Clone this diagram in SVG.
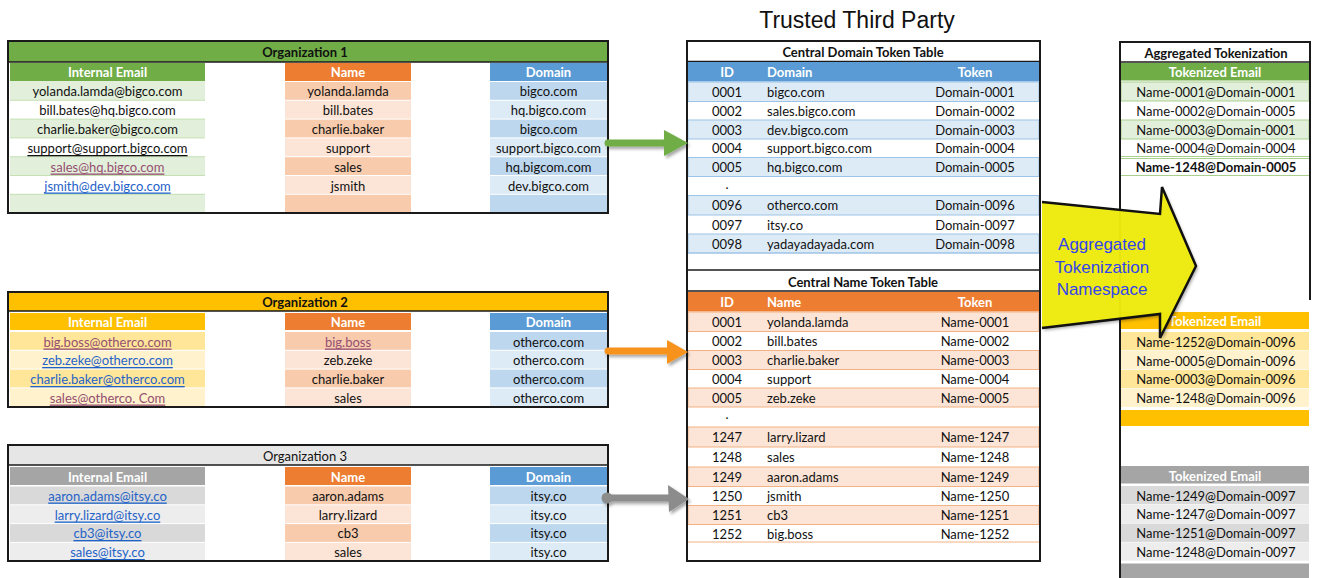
<svg xmlns="http://www.w3.org/2000/svg" width="1318" height="578" viewBox="0 0 1318 578">
  <style>
    .t { font-family: Lato, "Liberation Sans", sans-serif; font-size: 13px; fill: #111; text-anchor: middle; dominant-baseline: central; }
    .s { text-anchor: start; }
    .b { font-weight: bold; }
    .w { font-weight: bold; fill: #fff; }
    .lk { fill: #1f62c8; text-decoration: underline; }
    .vs { fill: #954f72; text-decoration: underline; }
    .ul { text-decoration: underline; }
    .box { fill: none; stroke: #1a1a1a; stroke-width: 2; }
    .rule { stroke: #1a1a1a; stroke-width: 1.6; }
    .g1 { fill: #e2efda; } .g0 { fill: #ffffff; }
    .o1 { fill: #ffe699; } .o0 { fill: #fff2cc; }
    .y1 { fill: #d9d9d9; } .y0 { fill: #ededed; }
    .n1 { fill: #f8cbad; } .n0 { fill: #fce4d6; }
    .d1 { fill: #bdd7ee; } .d0 { fill: #ddebf7; }
    .arrowtxt { font-family: "Liberation Sans", Arial, sans-serif; font-size: 17px; fill: #3344ee; text-anchor: middle; dominant-baseline: central; }
  </style>
  <defs>
    <filter id="shadow" x="-20%" y="-20%" width="140%" height="150%">
      <feDropShadow dx="2" dy="2.5" stdDeviation="1.6" flood-color="#000" flood-opacity="0.35"/>
    </filter>
  </defs>

  <rect width="1318" height="578" fill="#fff"/>

  <text x="857" y="20" font-family="Liberation Sans, Arial, sans-serif" font-size="23" text-anchor="middle" dominant-baseline="central" fill="#111">Trusted Third Party</text>

  <!-- Organization 1 -->
  <g id="org1">
    <rect x="9" y="42" width="598" height="20" fill="#70ad47"/>
    <line x1="9" y1="62" x2="607" y2="62" class="rule"/>
    <text x="305" y="52" class="t b">Organization 1</text>
    <rect x="10" y="63" width="195" height="18" fill="#70ad47"/>
    <rect x="285" y="63" width="126" height="18" fill="#ed7d31"/>
    <rect x="490" y="63" width="117" height="18" fill="#5b9bd5"/>
    <text x="107.5" y="72" class="t w">Internal Email</text>
    <text x="348" y="72" class="t w">Name</text>
    <text x="548.5" y="72" class="t w">Domain</text>
    <rect x="10" y="81.5" width="195" height="131.5" fill="#c6e0b4"/>
    <rect x="10" y="82" width="195" height="17.8" class="g1"/>
    <rect x="10" y="100.8" width="195" height="17.8" class="g0"/>
    <rect x="10" y="119.6" width="195" height="17.8" class="g1"/>
    <rect x="10" y="138.4" width="195" height="17.8" class="g0"/>
    <rect x="10" y="157.2" width="195" height="17.8" class="g1"/>
    <rect x="10" y="176" width="195" height="17.8" class="g0"/>
    <rect x="10" y="194.8" width="195" height="17.8" class="g1"/>
    <rect x="285" y="82" width="126" height="17.8" class="n1"/>
    <rect x="285" y="100.8" width="126" height="17.8" class="n0"/>
    <rect x="285" y="119.6" width="126" height="17.8" class="n1"/>
    <rect x="285" y="138.4" width="126" height="17.8" class="n0"/>
    <rect x="285" y="157.2" width="126" height="17.8" class="n1"/>
    <rect x="285" y="176" width="126" height="17.8" class="n0"/>
    <rect x="285" y="194.8" width="126" height="17.8" class="n1"/>
    <rect x="490" y="82" width="117" height="17.8" class="d1"/>
    <rect x="490" y="100.8" width="117" height="17.8" class="d0"/>
    <rect x="490" y="119.6" width="117" height="17.8" class="d1"/>
    <rect x="490" y="138.4" width="117" height="17.8" class="d0"/>
    <rect x="490" y="157.2" width="117" height="17.8" class="d1"/>
    <rect x="490" y="176" width="117" height="17.8" class="d0"/>
    <rect x="490" y="194.8" width="117" height="17.8" class="d1"/>
    <text x="107.5" y="91" class="t">yolanda.lamda@bigco.com</text>
    <text x="107.5" y="110" class="t">bill.bates@hq.bigco.com</text>
    <text x="107.5" y="129" class="t">charlie.baker@bigco.com</text>
    <text x="107.5" y="148" class="t ul">support@support.bigco.com</text>
    <text x="107.5" y="166.5" class="t vs">sales@hq.bigco.com</text>
    <text x="107.5" y="185.5" class="t lk">jsmith@dev.bigco.com</text>
    <text x="348" y="91" class="t">yolanda.lamda</text>
    <text x="348" y="110" class="t">bill.bates</text>
    <text x="348" y="129" class="t">charlie.baker</text>
    <text x="348" y="148" class="t">support</text>
    <text x="348" y="166.5" class="t">sales</text>
    <text x="348" y="185.5" class="t">jsmith</text>
    <text x="548.5" y="91" class="t">bigco.com</text>
    <text x="548.5" y="110" class="t">hq.bigco.com</text>
    <text x="548.5" y="129" class="t">bigco.com</text>
    <text x="548.5" y="148" class="t">support.bigco.com</text>
    <text x="548.5" y="166.5" class="t">hq.bigcom.com</text>
    <text x="548.5" y="185.5" class="t">dev.bigco.com</text>
    <rect x="8" y="41" width="600" height="172" class="box"/>
  </g>

  <!-- Organization 2 -->
  <g id="org2">
    <rect x="9" y="293" width="598" height="18" fill="#ffc000"/>
    <line x1="9" y1="311" x2="607" y2="311" class="rule"/>
    <text x="305" y="302" class="t b">Organization 2</text>
    <rect x="10" y="313" width="195" height="17" fill="#ffc000"/>
    <rect x="285" y="313" width="126" height="17" fill="#ed7d31"/>
    <rect x="490" y="313" width="117" height="17" fill="#5b9bd5"/>
    <text x="107.5" y="322" class="t w">Internal Email</text>
    <text x="348" y="322" class="t w">Name</text>
    <text x="548.5" y="322" class="t w">Domain</text>
    <rect x="10" y="332" width="195" height="17.8" class="o1"/>
    <rect x="10" y="350.8" width="195" height="17.8" class="o0"/>
    <rect x="10" y="369.6" width="195" height="17.8" class="o1"/>
    <rect x="10" y="388.4" width="195" height="17.8" class="o0"/>
    <rect x="285" y="332" width="126" height="17.8" class="n1"/>
    <rect x="285" y="350.8" width="126" height="17.8" class="n0"/>
    <rect x="285" y="369.6" width="126" height="17.8" class="n1"/>
    <rect x="285" y="388.4" width="126" height="17.8" class="n0"/>
    <rect x="490" y="332" width="117" height="17.8" class="d1"/>
    <rect x="490" y="350.8" width="117" height="17.8" class="d0"/>
    <rect x="490" y="369.6" width="117" height="17.8" class="d1"/>
    <rect x="490" y="388.4" width="117" height="17.8" class="d0"/>
    <text x="107.5" y="341.5" class="t vs">big.boss@otherco.com</text>
    <text x="107.5" y="360" class="t lk">zeb.zeke@otherco.com</text>
    <text x="107.5" y="379" class="t lk">charlie.baker@otherco.com</text>
    <text x="107.5" y="397.5" class="t vs">sales@otherco. Com</text>
    <text x="348" y="341.5" class="t vs">big.boss</text>
    <text x="348" y="360" class="t">zeb.zeke</text>
    <text x="348" y="379" class="t">charlie.baker</text>
    <text x="348" y="397.5" class="t">sales</text>
    <text x="548.5" y="341.5" class="t">otherco.com</text>
    <text x="548.5" y="360" class="t">otherco.com</text>
    <text x="548.5" y="379" class="t">otherco.com</text>
    <text x="548.5" y="397.5" class="t">otherco.com</text>
    <rect x="8" y="292" width="600" height="115" class="box"/>
  </g>

  <!-- Organization 3 -->
  <g id="org3">
    <rect x="9" y="446" width="598" height="19" fill="#e7e6e6"/>
    <line x1="9" y1="465" x2="607" y2="465" class="rule"/>
    <text x="305" y="456" class="t">Organization 3</text>
    <rect x="10" y="467" width="195" height="18" fill="#a5a5a5"/>
    <rect x="285" y="467" width="126" height="18" fill="#ed7d31"/>
    <rect x="490" y="467" width="117" height="18" fill="#5b9bd5"/>
    <text x="107.5" y="476.5" class="t w">Internal Email</text>
    <text x="348" y="476.5" class="t w">Name</text>
    <text x="548.5" y="476.5" class="t w">Domain</text>
    <rect x="10" y="486.5" width="195" height="17.8" class="y1"/>
    <rect x="10" y="505.3" width="195" height="17.8" class="y0"/>
    <rect x="10" y="524.1" width="195" height="17.8" class="y1"/>
    <rect x="10" y="542.9" width="195" height="17.8" class="y0"/>
    <rect x="285" y="486.5" width="126" height="17.8" class="n1"/>
    <rect x="285" y="505.3" width="126" height="17.8" class="n0"/>
    <rect x="285" y="524.1" width="126" height="17.8" class="n1"/>
    <rect x="285" y="542.9" width="126" height="17.8" class="n0"/>
    <rect x="490" y="486.5" width="117" height="17.8" class="d1"/>
    <rect x="490" y="505.3" width="117" height="17.8" class="d0"/>
    <rect x="490" y="524.1" width="117" height="17.8" class="d1"/>
    <rect x="490" y="542.9" width="117" height="17.8" class="d0"/>
    <text x="107.5" y="495.5" class="t lk">aaron.adams@itsy.co</text>
    <text x="107.5" y="514.5" class="t lk">larry.lizard@itsy.co</text>
    <text x="107.5" y="533" class="t lk">cb3@itsy.co</text>
    <text x="107.5" y="552" class="t lk">sales@itsy.co</text>
    <text x="348" y="495.5" class="t">aaron.adams</text>
    <text x="348" y="514.5" class="t">larry.lizard</text>
    <text x="348" y="533" class="t">cb3</text>
    <text x="348" y="552" class="t">sales</text>
    <text x="548.5" y="495.5" class="t">itsy.co</text>
    <text x="548.5" y="514.5" class="t">itsy.co</text>
    <text x="548.5" y="533" class="t">itsy.co</text>
    <text x="548.5" y="552" class="t">itsy.co</text>
    <rect x="8" y="445" width="600" height="116" class="box"/>
  </g>

  <!-- Central domain and name token tables -->
  <g id="central-tables">
    <text x="863" y="52" class="t b">Central Domain Token Table</text>
    <line x1="688" y1="61.5" x2="1039" y2="61.5" class="rule"/>
    <rect x="688" y="62" width="351" height="19.5" fill="#5b9bd5"/>
    <text x="727" y="72" class="t w">ID</text>
    <text x="767" y="72" class="t w s">Domain</text>
    <text x="975" y="72" class="t w">Token</text>
    <g stroke="#9dc3e6" stroke-width="1">
      <rect x="688" y="82" width="351" height="19.5" class="d0"/>
      <rect x="688" y="120" width="351" height="19" class="d0"/>
      <rect x="688" y="157.5" width="351" height="19" class="d0"/>
      <rect x="688" y="195.5" width="351" height="19.5" class="d0"/>
      <rect x="688" y="234" width="351" height="19" class="d0"/>
    </g>
    <text x="712" y="92" class="t s">0001</text><text x="767" y="92" class="t s">bigco.com</text><text x="975" y="92" class="t">Domain-0001</text>
    <text x="712" y="111" class="t s">0002</text><text x="767" y="111" class="t s">sales.bigco.com</text><text x="975" y="111" class="t">Domain-0002</text>
    <text x="712" y="129.5" class="t s">0003</text><text x="767" y="129.5" class="t s">dev.bigco.com</text><text x="975" y="129.5" class="t">Domain-0003</text>
    <text x="712" y="148" class="t s">0004</text><text x="767" y="148" class="t s">support.bigco.com</text><text x="975" y="148" class="t">Domain-0004</text>
    <text x="712" y="167" class="t s">0005</text><text x="767" y="167" class="t s">hq.bigco.com</text><text x="975" y="167" class="t">Domain-0005</text>
    <text x="727" y="184" class="t">.</text>
    <text x="712" y="205" class="t s">0096</text><text x="767" y="205" class="t s">otherco.com</text><text x="975" y="205" class="t">Domain-0096</text>
    <text x="712" y="224.5" class="t s">0097</text><text x="767" y="224.5" class="t s">itsy.co</text><text x="975" y="224.5" class="t">Domain-0097</text>
    <text x="712" y="243.5" class="t s">0098</text><text x="767" y="243.5" class="t s">yadayadayada.com</text><text x="975" y="243.5" class="t">Domain-0098</text>
    <line x1="688" y1="253" x2="1039" y2="253" stroke="#9dc3e6" stroke-width="1"/>

    <line x1="687" y1="270" x2="1040" y2="270" class="rule" stroke-width="2"/>
    <text x="863" y="282" class="t b">Central Name Token Table</text>
    <line x1="688" y1="291" x2="1039" y2="291" class="rule"/>
    <rect x="688" y="292" width="351" height="19.5" fill="#ed7d31"/>
    <text x="727" y="302" class="t w">ID</text>
    <text x="767" y="302" class="t w s">Name</text>
    <text x="975" y="302" class="t w">Token</text>
    <g stroke="#f4b183" stroke-width="1">
      <rect x="688" y="312" width="351" height="19.5" class="n0"/>
      <rect x="688" y="350.5" width="351" height="19" class="n0"/>
      <rect x="688" y="388" width="351" height="19" class="n0"/>
      <rect x="688" y="427" width="351" height="20" class="n0"/>
      <rect x="688" y="467" width="351" height="19.5" class="n0"/>
      <rect x="688" y="505.5" width="351" height="19" class="n0"/>
      <line x1="688" y1="542" x2="1039" y2="542"/>
    </g>
    <text x="712" y="322" class="t s">0001</text><text x="767" y="322" class="t s">yolanda.lamda</text><text x="975" y="322" class="t">Name-0001</text>
    <text x="712" y="341" class="t s">0002</text><text x="767" y="341" class="t s">bill.bates</text><text x="975" y="341" class="t">Name-0002</text>
    <text x="712" y="360" class="t s">0003</text><text x="767" y="360" class="t s">charlie.baker</text><text x="975" y="360" class="t">Name-0003</text>
    <text x="712" y="379" class="t s">0004</text><text x="767" y="379" class="t s">support</text><text x="975" y="379" class="t">Name-0004</text>
    <text x="712" y="397.5" class="t s">0005</text><text x="767" y="397.5" class="t s">zeb.zeke</text><text x="975" y="397.5" class="t">Name-0005</text>
    <text x="727" y="414" class="t">.</text>
    <text x="712" y="437" class="t s">1247</text><text x="767" y="437" class="t s">larry.lizard</text><text x="975" y="437" class="t">Name-1247</text>
    <text x="712" y="457" class="t s">1248</text><text x="767" y="457" class="t s">sales</text><text x="975" y="457" class="t">Name-1248</text>
    <text x="712" y="477" class="t s">1249</text><text x="767" y="477" class="t s">aaron.adams</text><text x="975" y="477" class="t">Name-1249</text>
    <text x="712" y="496" class="t s">1250</text><text x="767" y="496" class="t s">jsmith</text><text x="975" y="496" class="t">Name-1250</text>
    <text x="712" y="515" class="t s">1251</text><text x="767" y="515" class="t s">cb3</text><text x="975" y="515" class="t">Name-1251</text>
    <text x="712" y="534" class="t s">1252</text><text x="767" y="534" class="t s">big.boss</text><text x="975" y="534" class="t">Name-1252</text>
    <rect x="687" y="41" width="353" height="520" class="box"/>
  </g>

  <!-- Aggregated tokenization table -->
  <g id="aggregated">
    <text x="1216" y="53" class="t b">Aggregated Tokenization</text>
    <line x1="1121" y1="62" x2="1309" y2="62" class="rule"/>
    <rect x="1121" y="63" width="188" height="17.5" fill="#70ad47"/>
    <text x="1215" y="72" class="t w">Tokenized Email</text>
    <g stroke="#a9d08e" stroke-width="1">
      <rect x="1121" y="82" width="188" height="19" class="g1"/>
      <rect x="1121" y="120" width="188" height="19" class="g1"/>
      <line x1="1121" y1="156.5" x2="1309" y2="156.5"/>
      <line x1="1121" y1="158.5" x2="1309" y2="158.5"/>
      <line x1="1121" y1="175.5" x2="1309" y2="175.5"/>
    </g>
    <text x="1216" y="92" class="t">Name-0001@Domain-0001</text>
    <text x="1216" y="111" class="t">Name-0002@Domain-0005</text>
    <text x="1216" y="129.5" class="t">Name-0003@Domain-0001</text>
    <text x="1216" y="148" class="t">Name-0004@Domain-0004</text>
    <text x="1216" y="167" class="t b">Name-1248@Domain-0005</text>

    <rect x="1121" y="312" width="188" height="17" fill="#ffc000"/>
    <text x="1215" y="321" class="t w">Tokenized Email</text>
    <rect x="1121" y="332" width="188" height="18.3" class="o1"/>
    <rect x="1121" y="351" width="188" height="18" class="o0"/>
    <rect x="1121" y="369.8" width="188" height="18.3" class="o1"/>
    <rect x="1121" y="388.6" width="188" height="18.4" class="o0"/>
    <text x="1216" y="342" class="t">Name-1252@Domain-0096</text>
    <text x="1216" y="360.5" class="t">Name-0005@Domain-0096</text>
    <text x="1216" y="379" class="t">Name-0003@Domain-0096</text>
    <text x="1216" y="398" class="t">Name-1248@Domain-0096</text>
    <rect x="1121" y="410" width="188" height="16" fill="#ffc000"/>

    <rect x="1121" y="466" width="188" height="17.5" fill="#a5a5a5"/>
    <text x="1215" y="476" class="t w">Tokenized Email</text>
    <rect x="1121" y="486" width="188" height="18.3" class="y1"/>
    <rect x="1121" y="504.8" width="188" height="18.3" class="y0"/>
    <rect x="1121" y="523.6" width="188" height="18.3" class="y1"/>
    <rect x="1121" y="542.4" width="188" height="18.3" class="y0"/>
    <text x="1216" y="495.5" class="t">Name-1249@Domain-0097</text>
    <text x="1216" y="514" class="t">Name-1247@Domain-0097</text>
    <text x="1216" y="532.5" class="t">Name-1251@Domain-0097</text>
    <text x="1216" y="551.5" class="t">Name-1248@Domain-0097</text>
    <rect x="1121" y="563.5" width="188" height="15" fill="#a5a5a5"/>

    <polyline points="1120,580 1120,42 1310,42 1310,300" class="box"/>
  </g>

  <!-- Namespace block arrow -->
  <g id="namespace-arrow">
    <polygon points="1042,202 1160,214 1162,187 1196,266 1160,338 1160,314 1042,328" fill="#eeea12" fill-opacity="0.96" filter="url(#shadow)"/>
    <polyline points="1042,202 1160,214 1162,187 1196,266 1160,338 1160,314 1042,328" fill="none" stroke="#111" stroke-width="2.5" stroke-linejoin="miter"/>
    <text x="1102" y="244" class="arrowtxt">Aggregated</text>
    <text x="1102" y="267" class="arrowtxt">Tokenization</text>
    <text x="1102" y="289" class="arrowtxt">Namespace</text>
  </g>

  <!-- Connectors from each organization to the central tables -->
  <g id="connectors" filter="url(#shadow)">
    <line x1="608" y1="143" x2="667" y2="143" stroke="#70ad47" stroke-width="7" stroke-linecap="round"/>
    <polygon points="664,130 688,143 664,156" fill="#70ad47"/>
    <line x1="608" y1="351" x2="669" y2="351" stroke="#f7931e" stroke-width="7" stroke-linecap="round"/>
    <polygon points="667,340 688,352 667,364" fill="#f7931e"/>
    <circle cx="607" cy="498" r="5.5" fill="#8c8c8c"/>
    <line x1="607" y1="498" x2="671" y2="498" stroke="#8c8c8c" stroke-width="7"/>
    <polygon points="668,485 689,499 669,512" fill="#8c8c8c"/>
  </g>
</svg>
